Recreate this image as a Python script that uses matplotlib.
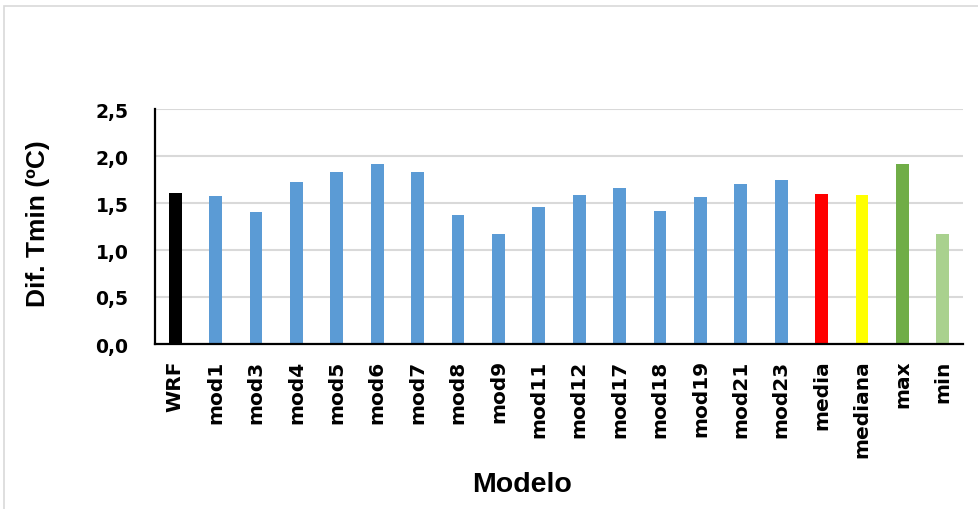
import numpy as np
import matplotlib.pyplot as plt
from matplotlib.patches import Rectangle

modelos = ['WRF', 'mod1', 'mod3', 'mod4', 'mod5', 'mod6', 'mod7', 'mod8', 'mod9',
           'mod11', 'mod12', 'mod17', 'mod18', 'mod19', 'mod21', 'mod23',
           'media', 'mediana', 'max', 'min']
dif_tmin = [1.61, 1.57, 1.40, 1.72, 1.83, 1.91, 1.83, 1.37, 1.17,
            1.46, 1.58, 1.66, 1.41, 1.56, 1.70, 1.75,
            1.60, 1.58, 1.91, 1.17]
colores = ['#000000'] + ['#5b9bd5'] * 15 + ['#ff0000', '#ffff00', '#70ad47', '#a9d18e']
yticks = [0.0, 0.5, 1.0, 1.5, 2.0, 2.5]

fig = plt.figure(figsize=(9.79, 5.10), dpi=100)
ax = fig.add_axes([155/979, 1-345/510, (963-155)/979, (345-110)/510])

# marco gris del grafico
fig.patches.append(Rectangle((4/979, -0.1), 1.2, 1.1 - 7/510, transform=fig.transFigure,
                             fill=False, edgecolor='#d9d9d9', lw=1.2))

x = np.arange(len(modelos))
ax.bar(x, dif_tmin, width=0.32, color=colores, zorder=3)

ax.set_xlim(-0.5, len(modelos) - 0.5)
ax.set_ylim(0, 2.5)
ax.set_yticks(yticks)
ax.set_yticklabels([f'{v:.1f}'.replace('.', ',') for v in yticks],
                   fontsize=13.5, fontweight='bold', family='DejaVu Sans')
ax.set_xticks(x)
ax.set_xticklabels(modelos, rotation=90, fontsize=14.5, fontweight='bold', family='DejaVu Sans')
ax.tick_params(axis='x', length=0, pad=11)
ax.tick_params(axis='y', length=0, pad=19)

ax.yaxis.grid(True, color='#d9d9d9', lw=1.5, zorder=0)
for s in ['top', 'right']:
    ax.spines[s].set_visible(False)
for s in ['left', 'bottom']:
    ax.spines[s].set_linewidth(1.6)
    ax.spines[s].set_zorder(4)

fig.text(38/979, 1-224/510, 'Dif. Tmin (ºC)', rotation=90, ha='center', va='center',
         fontsize=19, fontweight='bold', family='Liberation Sans')
fig.text(522/979, 1-485/510, 'Modelo', ha='center', va='center',
         fontsize=20.5, fontweight='bold', family='Liberation Sans')

fig.savefig('out.png', dpi=100)
